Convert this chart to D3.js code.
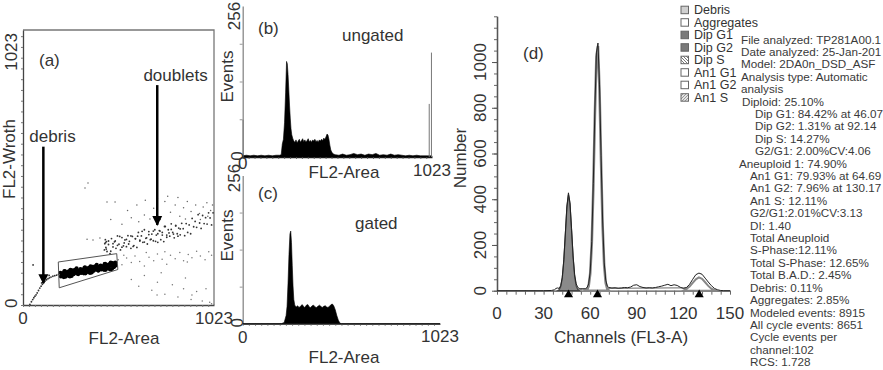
<!DOCTYPE html>
<html>
<head>
<meta charset="utf-8">
<script src="https://cdn.jsdelivr.net/npm/d3@7"></script>
<style>
  body { margin: 0; background: #fff; }
  svg { display: block; font-family: "Liberation Sans", Arial, sans-serif; }
  text { fill: #333; }
</style>
</head>
<body>
<div id="chart"></div>
<script>
// ---------- data ----------
// (a) FL2-Area vs FL2-Width dot plot, [area, width]
const coreCells = [[200,120],[206,108],[212,116],[218,104],[224,126],[230,114],[236,122],[242,109],[248,118],[254,131],
  [260,108],[266,123],[272,115],[278,131],[284,120],[290,129],[296,115],[302,126],[308,134],[314,121],[320,129],[326,118],
  [332,140],[338,127],[344,135],[350,123],[356,131],[362,144],[368,121],[374,137],[380,128],[386,144],[392,133],[398,143],
  [404,128],[410,139],[416,147],[422,135],[428,142],[434,131],[440,153],[446,141],[452,148],[458,136],[464,145],[470,158],
  [476,134],[482,150],[488,142],[494,158],
  [203,106],[209,117],[215,113],[221,125],[227,105],[233,119],[239,113],[245,125],[251,106],[257,120],[263,129],[269,115],
  [275,126],[281,120],[287,136],[293,116],[299,126],[305,121],[311,119],[317,131],[323,126],[329,138],[335,118],[341,133],
  [347,126],[353,138],[359,119],[365,134],[371,142],[377,128],[383,140],[389,134],[395,149],[401,129],[407,140],[413,135],
  [419,132],[425,144],[431,140],[437,152],[443,131],[449,146],[455,140],[461,151],[467,132],[473,147],[479,156],[485,141],
  [491,153],[497,147]];
const doubletCells = [[442,232],[450,199],[458,225],[466,191],[474,247],[482,216],[490,235],[498,211],[506,257],[514,226],
  [522,205],[530,251],[538,220],[546,242],[554,217],[562,258],[570,237],[578,211],[586,255],[594,221],[602,247],[610,214],
  [618,270],[626,238],[634,257],[642,233],[650,280],[658,248],[666,227],[674,273],[682,243],[690,264],[698,239],[706,280],
  [714,260],[722,233],[730,277],[738,243],[746,270],[754,236],[762,292],[770,260],[778,280],[786,256],[794,302],[802,270],
  [810,250],[818,296],[826,265],[834,286],[842,261],[850,304],[858,284],[866,258],[874,303],[882,270],[890,298],[898,265],
  [906,322],[914,291],[922,311],[930,289],[938,336],[946,305],[954,285],[962,333],[970,303],[978,325],[986,301],[994,343],
  [1002,324],[1010,298],[1018,343],
  [446,208],[458,238],[470,200],[482,228],[494,238],[506,222],[518,255],[530,215],[542,231],[554,244],[566,227],[578,257],
  [590,218],[602,246],[614,256],[626,241],[638,274],[650,234],[662,250],[674,262],[686,245],[698,275],[710,237],[722,265],
  [734,275],[746,260],[758,292],[770,252],[782,268],[794,281],[806,264],[818,294],[830,256],[842,283],
  [436,205],[438,228],[441,243],[444,214],[447,236]];
const upperCells = [[560,352],[610,372],[650,335],[700,360],[735,318],[760,385],[790,345],[815,372],[840,330],[860,362],
  [880,385],[900,348],[925,372],[945,340],[965,365],[985,380],[1005,352],[1015,372],[680,320],[620,310],[580,325],[720,395],
  [870,320],[950,318],[990,330],[530,300],[470,318],[655,390],[775,405],[830,400],[348,454],[332,435],[493,383],[450,383],
  [343,245],[375,242],[412,249]];
const lowerCells = [[510,168],[530,150],[540,185],[555,175],[580,158],[600,182],[625,162],[650,145],[660,195],[675,178],
  [700,165],[720,190],[745,170],[760,198],[770,152],[790,185],[815,172],[840,195],[860,165],[880,160],[885,188],[905,176],
  [930,200],[950,182],[975,168],[995,198],[1010,185],
  [580,95],[620,70],[650,110],[690,55],[718,37],[720,85],[740,120],[760,40],[800,75],[830,30],[860,60],[870,100],[900,20],
  [905,37],[930,50],[960,15],[980,60],[1000,10],[1010,5]];
const debrisCells = [[37,2],[45,12],[52,20],[58,27],[64,33],[70,38],[76,45],[83,54],[90,63],[97,70],[104,77],[111,84],
  [118,89],[126,94],[134,98],[142,101],[150,104],[160,107],[170,109],[180,111],[190,114],[54,149],[120,100],[100,82],[140,110]];
const gatePolygon = [[189,160],[502,191],[508,132],[194,64]];
const scatterTicks = [0, 1023];

// (b) ungated and (c) gated FL2-Area histograms, [channel, events]
const ungatedHist = [[0,2],[20,3],[40,2],[60,3],[80,2],[100,3],[120,2],[140,3],[160,2],[180,3],[200,3],[208,4],[214,22],
  [220,30],[226,58],[232,110],[237,162],[241,158],[245,140],[249,115],[253,88],[257,66],[261,48],[265,38],[270,32],[276,27],
  [282,25],[288,29],[294,24],[300,27],[306,30],[312,25],[318,28],[324,31],[330,26],[336,29],[342,25],[348,28],[354,31],
  [360,26],[366,28],[372,25],[378,29],[384,27],[390,30],[396,26],[402,28],[408,25],[414,29],[420,27],[426,30],[432,28],
  [438,32],[444,30],[450,34],[456,39],[461,37],[466,30],[471,20],[476,12],[482,8],[490,5],[500,4],[520,3],[540,5],[560,3],
  [580,4],[600,6],[620,4],[640,5],[660,3],[680,5],[700,4],[720,6],[740,3],[760,4],[780,3],[800,5],[820,3],[840,4],[860,3],
  [880,2],[900,3],[920,2],[940,3],[960,2],[980,2],[1000,2],[1023,2]];
const ungatedEdges = [[2,63],[1008,90],[1020,177]];
const gatedHist = [[0,0],[200,0],[215,2],[220,8],[225,14],[230,30],[235,70],[240,120],[245,155],[249,160],[253,140],
  [257,100],[261,65],[265,42],[270,32],[278,29],[285,31],[292,28],[300,30],[308,33],[315,30],[322,28],[330,32],[338,33],
  [345,29],[352,28],[360,31],[368,32],[375,29],[382,28],[390,30],[398,32],[405,30],[412,28],[420,30],[428,31],[435,29],
  [442,28],[450,30],[458,33],[465,34],[472,31],[480,24],[488,14],[496,6],[504,1],[512,0],[1023,0]];
const histYTicks = [0, 256];
const histXTicks = [0, 1023];

// (d) DNA histogram, [channel, number]
const measured = [[0,0],[30,0],[35,1],[37,4],[38,10],[39,12],[40,10],[41,22],[42,58],[43,135],[44,252],[45,370],[46,428],
  [47,385],[48,272],[49,152],[50,70],[51,30],[52,14],[53,10],[54,8],[55,9],[56,8],[57,9],[58,14],[59,30],[60,82],[61,215],
  [62,470],[63,790],[64,1040],[65,1083],[66,900],[67,590],[68,305],[69,125],[70,46],[71,20],[72,14],[74,12],[76,13],[78,11],
  [80,12],[82,14],[84,13],[86,16],[88,24],[90,26],[92,18],[94,14],[96,12],[98,13],[100,12],[102,14],[104,17],[106,20],
  [108,24],[110,28],[112,22],[114,26],[116,23],[118,15],[120,10],[122,14],[124,28],[126,50],[128,70],[130,77],[132,72],
  [134,55],[136,38],[138,22],[140,10],[142,4],[144,1],[146,0],[150,0]];
const dipG1 = [[39,0],[40,4],[41,17],[42,53],[43,129],[44,246],[45,364],[46,419],[47,377],[48,264],[49,144],[50,61],
  [51,20],[52,5],[53,0]];
const an1G1 = [[57,0],[58,4],[59,20],[60,73],[61,204],[62,446],[63,763],[64,1022],[65,1070],[66,878],[67,563],[68,283],
  [69,111],[70,34],[71,8],[72,0]];
const an1G2 = [[120,0],[122,8],[124,18],[126,34],[128,50],[130,58],[132,52],[134,37],[136,21],[138,9],[140,3],[142,0]];
const sPhase = [[48,0],[50,6],[55,7],[60,8],[66,9],[72,10],[80,10],[90,11],[100,11],[110,12],[120,12],[126,10],[130,6],[134,0]];
const peakMarks = [46.07, 64.69, 130.17];
const dXTicks = [0, 30, 60, 90, 120, 150];
const dYTicks = [0, 200, 400, 600, 800, 1000];

const legendNames = ["Debris", "Aggregates", "Dip G1", "Dip G2", "Dip S", "An1 G1", "An1 G2", "An1 S"];
const infoLines = ["File analyzed: TP281A00.1", "Date analyzed: 25-Jan-201", "Model: 2DA0n_DSD_ASF",
  "Analysis type: Automatic", "analysis", "Diploid: 25.10%", "Dip G1: 84.42% at 46.07", "Dip G2: 1.31% at 92.14",
  "Dip S: 14.27%", "G2/G1: 2.00%CV:4.06", "Aneuploid 1: 74.90%", "An1 G1: 79.93% at 64.69", "An1 G2: 7.96% at 130.17",
  "An1 S: 12.11%", "G2/G1:2.01%CV:3.13", "DI: 1.40", "Total Aneuploid", "S-Phase:12.11%", "Total S-Phase: 12.65%",
  "Total B.A.D.: 2.45%", "Debris: 0.11%", "Aggregates: 2.85%", "Modeled events: 8915", "All cycle events: 8651",
  "Cycle events per", "channel:102", "RCS: 1.728"];

// ---------- styles / layout ----------
const legendFill = { "Debris": "#d0d0d0", "Aggregates": "#fff", "Dip G1": "#7a7a7a", "Dip G2": "#7a7a7a",
  "Dip S": "url(#hatchB)", "An1 G1": "#fff", "An1 G2": "#fff", "An1 S": "url(#hatchF)" };
const infoX = [741,741,741,741,741,742,755,755,755,755,739,750,750,750,750,750,750,750,750,750,750,750,750,750,750,750,750];

const svg = d3.select("#chart").append("svg").attr("width", 883).attr("height", 370);
const defs = svg.append("defs");
const hb = defs.append("pattern").attr("id", "hatchB").attr("patternUnits", "userSpaceOnUse").attr("width", 3).attr("height", 3);
hb.append("rect").attr("width", 3).attr("height", 3).attr("fill", "#fff");
hb.append("path").attr("d", "M0,0L3,3").attr("stroke", "#777").attr("stroke-width", 1);
const hf = defs.append("pattern").attr("id", "hatchF").attr("patternUnits", "userSpaceOnUse").attr("width", 3).attr("height", 3);
hf.append("rect").attr("width", 3).attr("height", 3).attr("fill", "#e4e4e4");
hf.append("path").attr("d", "M0,3L3,0").attr("stroke", "#999").attr("stroke-width", 1);
defs.append("marker").attr("id", "arrow").attr("viewBox", "0 0 10 10").attr("refX", 9).attr("refY", 5)
  .attr("markerWidth", 4).attr("markerHeight", 4.4).attr("orient", "auto")
  .append("path").attr("d", "M0,0L10,5L0,10z").attr("fill", "#000");

function vtext(g, x, y, txt, anchor, size) {
  return g.append("text").attr("transform", `translate(${x},${y}) rotate(-90)`)
    .attr("text-anchor", anchor).style("font-size", size + "px").text(txt);
}
function htext(g, x, y, txt, anchor, size) {
  return g.append("text").attr("x", x).attr("y", y).attr("text-anchor", anchor).style("font-size", size + "px").text(txt);
}
function styleAxis(g, domainColor, tickColor) {
  g.select(".domain").attr("stroke", domainColor).attr("stroke-width", 1.3);
  g.selectAll(".tick line").attr("stroke", tickColor);
}

// ---------- (a) dot plot ----------
const ax = d3.scaleLinear().domain([0, 1023]).range([23, 214]);
const ay = d3.scaleLinear().domain([0, 1023]).range([305, 30]);
const gA = svg.append("g");

gA.append("path").attr("d", `M${ax(0)},${ay(1023)}H${ax(1023)}V${ay(0)}`)
  .attr("fill", "none").attr("stroke", "#777").attr("stroke-width", 1.3);
gA.append("g").attr("transform", `translate(${ax(0)},0)`)
  .call(d3.axisLeft(ay).tickValues(d3.range(0, 1024, 40)).tickSize(2).tickSizeOuter(0).tickFormat(""))
  .call(g => styleAxis(g, "#444", "#777"));
gA.append("g").attr("transform", `translate(0,${ay(0)})`)
  .call(d3.axisBottom(ax).tickValues(d3.range(0, 1024, 32)).tickSize(2).tickSizeOuter(0).tickFormat(""))
  .call(g => styleAxis(g, "#444", "#777"));

const dot = (cls, data, r, color) => gA.selectAll("circle." + cls).data(data).join("circle").attr("class", cls)
  .attr("cx", d => ax(d[0])).attr("cy", d => ay(d[1])).attr("r", r).attr("fill", color);
dot("low", lowerCells, 0.75, "#777");
dot("up", upperCells, 0.75, "#666");
dot("deb", debrisCells, 0.9, "#333");
dot("dbl", doubletCells, 0.9, "#333");
dot("core", coreCells, 2.1, "#000");

gA.append("path").attr("d", d3.line()(gatePolygon.map(d => [ax(d[0]), ay(d[1])])) + "Z")
  .attr("fill", "none").attr("stroke", "#555").attr("stroke-width", 1);

// annotations
gA.append("line").attr("x1", ax(109)).attr("x2", ax(109)).attr("y1", ay(589)).attr("y2", ay(81))
  .attr("stroke", "#000").attr("stroke-width", 2.5).attr("marker-end", "url(#arrow)");
gA.append("line").attr("x1", ax(719)).attr("x2", ax(719)).attr("y1", ay(818)).attr("y2", ay(298))
  .attr("stroke", "#000").attr("stroke-width", 2.5).attr("marker-end", "url(#arrow)");
htext(gA, ax(158), ay(606), "debris", "middle", 17);
htext(gA, ax(817), ay(833), "doublets", "middle", 17);
htext(gA, 39, 66, "(a)", "start", 17);

vtext(gA, 17, ay(scatterTicks[0]) + 3, String(scatterTicks[0]), "start", 17);
vtext(gA, 17, ay(scatterTicks[1]) + 3, String(scatterTicks[1]), "end", 17);
vtext(gA, 15, 159, "FL2-Wroth", "middle", 17);
scatterTicks.forEach(t => htext(gA, ax(t), 324, String(t), "middle", 17));
htext(gA, 124, 344, "FL2-Area", "middle", 17);

// ---------- (b), (c) histograms ----------
function histPanel(data, x0, x1, yBase, yTop, opts) {
  const g = svg.append("g");
  const x = d3.scaleLinear().domain([0, 1023]).range([x0, x1]);
  const y = d3.scaleLinear().domain([0, 256]).range([yBase, yTop]);
  g.append("g").attr("transform", `translate(${x0},0)`)
    .call(d3.axisLeft(y).tickValues([64, 128, 192]).tickSize(3).tickSizeOuter(0).tickFormat(""))
    .call(gg => styleAxis(gg, "#888", "#999"));
  g.append("g").attr("transform", `translate(0,${yBase})`)
    .call(d3.axisBottom(x).tickValues(d3.range(0, 1024, 32)).tickSize(2).tickSizeOuter(0).tickFormat(""))
    .call(gg => styleAxis(gg, "#222", "#666"));
  g.append("path").datum(data)
    .attr("d", d3.area().x(d => x(d[0])).y0(y(0)).y1(d => y(d[1])))
    .attr("fill", "#000").attr("stroke", "#000").attr("stroke-width", 0.6);
  if (opts.edges) {
    g.selectAll("line.edge").data(opts.edges).join("line").attr("class", "edge")
      .attr("x1", d => x(d[0])).attr("x2", d => x(d[0])).attr("y1", y(0)).attr("y2", d => y(d[1]))
      .attr("stroke", "#777").attr("stroke-width", 1);
  }
  vtext(g, 233, (yBase + yTop) / 2 + opts.evShift, "Events", "middle", 17);
  vtext(g, 240, y(histYTicks[1]) + opts.topShift, String(histYTicks[1]), "middle", 17);
  vtext(g, 243, y(histYTicks[0]) - 1, String(histYTicks[0]), "middle", 17);
  htext(g, x(histXTicks[0]), opts.zeroY, String(histXTicks[0]), "middle", 17);
  htext(g, x(histXTicks[1]), opts.endY, String(histXTicks[1]), "middle", 17);
  htext(g, 344, opts.titleY, "FL2-Area", "middle", 17);
  htext(g, 258, opts.tagY, opts.tag, "start", 17);
  htext(g, opts.noteX, opts.noteY, opts.note, "start", 17);
}
histPanel(ungatedHist, 242.7, 432, 157, 6, { edges: ungatedEdges, evShift: -5, topShift: 10, zeroY: 169, endY: 176,
  titleY: 177.5, tag: "(b)", tagY: 34, note: "ungated", noteX: 342, noteY: 41 });
histPanel(gatedHist, 242.7, 440, 323.7, 175.5, { evShift: -14, topShift: 2.5, zeroY: 342.5, endY: 342,
  titleY: 362.5, tag: "(c)", tagY: 199, note: "gated", noteX: 355, noteY: 229 });

// ---------- (d) DNA content histogram ----------
const dx = d3.scaleLinear().domain([0, 150]).range([497, 730]);
const dy = d3.scaleLinear().domain([0, 1200]).range([290.7, 16.3]);
const gD = svg.append("g");

gD.append("g").attr("transform", `translate(${dx(0)},0)`)
  .call(d3.axisLeft(dy).tickValues(d3.range(0, 1201, 50)).tickSize(3).tickSizeOuter(0).tickFormat(""))
  .call(g => styleAxis(g, "#555", "#666"));
gD.append("g").attr("transform", `translate(${dx(0)},0)`)
  .call(d3.axisLeft(dy).tickValues(dYTicks).tickSize(5).tickSizeOuter(0).tickFormat(""))
  .call(g => styleAxis(g, "#555", "#555"));
gD.append("g").attr("transform", `translate(0,${dy(0)})`)
  .call(d3.axisBottom(dx).tickValues(d3.range(0, 151, 6)).tickSize(4).tickSizeOuter(0).tickFormat(""))
  .call(g => styleAxis(g, "#555", "#666"));

const dArea = d3.area().x(d => dx(d[0])).y0(dy(0)).y1(d => dy(d[1]));
const dLine = d3.line().x(d => dx(d[0])).y(d => dy(d[1]));
gD.append("path").datum(sPhase).attr("d", dLine).attr("fill", "none").attr("stroke", "#888").attr("stroke-width", 1.2);
gD.append("path").datum(an1G2).attr("d", dArea).attr("fill", "#fff").attr("stroke", "#888").attr("stroke-width", 2);
gD.append("path").datum(an1G1).attr("d", dArea).attr("fill", "#fff").attr("stroke", "#888").attr("stroke-width", 2.6);
gD.append("path").datum(dipG1).attr("d", dArea).attr("fill", "#8a8a8a").attr("stroke", "#444").attr("stroke-width", 1.2);
gD.append("path").datum(measured).attr("d", dLine).attr("fill", "none").attr("stroke", "#222").attr("stroke-width", 1);

gD.selectAll("path.mark").data(peakMarks).join("path").attr("class", "mark")
  .attr("d", d3.symbol(d3.symbolTriangle, 36))
  .attr("transform", d => `translate(${dx(d)},${dy(0) + 4})`).attr("fill", "#000");

dYTicks.forEach(t => vtext(gD, 486, dy(t), String(t), "middle", 17));
dXTicks.forEach(t => htext(gD, dx(t), 319, String(t), "middle", 17));
vtext(gD, 466, 158, "Number", "middle", 17);
htext(gD, 621, 343, "Channels (FL3-A)", "middle", 17);
htext(gD, 523, 59, "(d)", "start", 17);

// legend
const gL = svg.append("g");
legendNames.forEach((n, i) => {
  const cy = 10 + i * 12.5;
  gL.append("rect").attr("x", 681).attr("y", cy - 3.8).attr("width", 7.5).attr("height", 7.5)
    .attr("fill", legendFill[n]).attr("stroke", "#666").attr("stroke-width", 1);
  htext(gL, 694, cy + 4.3, n, "start", 12.5);
});

// analysis report text
infoLines.forEach((t, i) => {
  htext(gL, infoX[i], 43.5 + i * 12.41, t, "start", 11.7).style("fill", "#3a3a3a");
});
</script>
</body>
</html>
